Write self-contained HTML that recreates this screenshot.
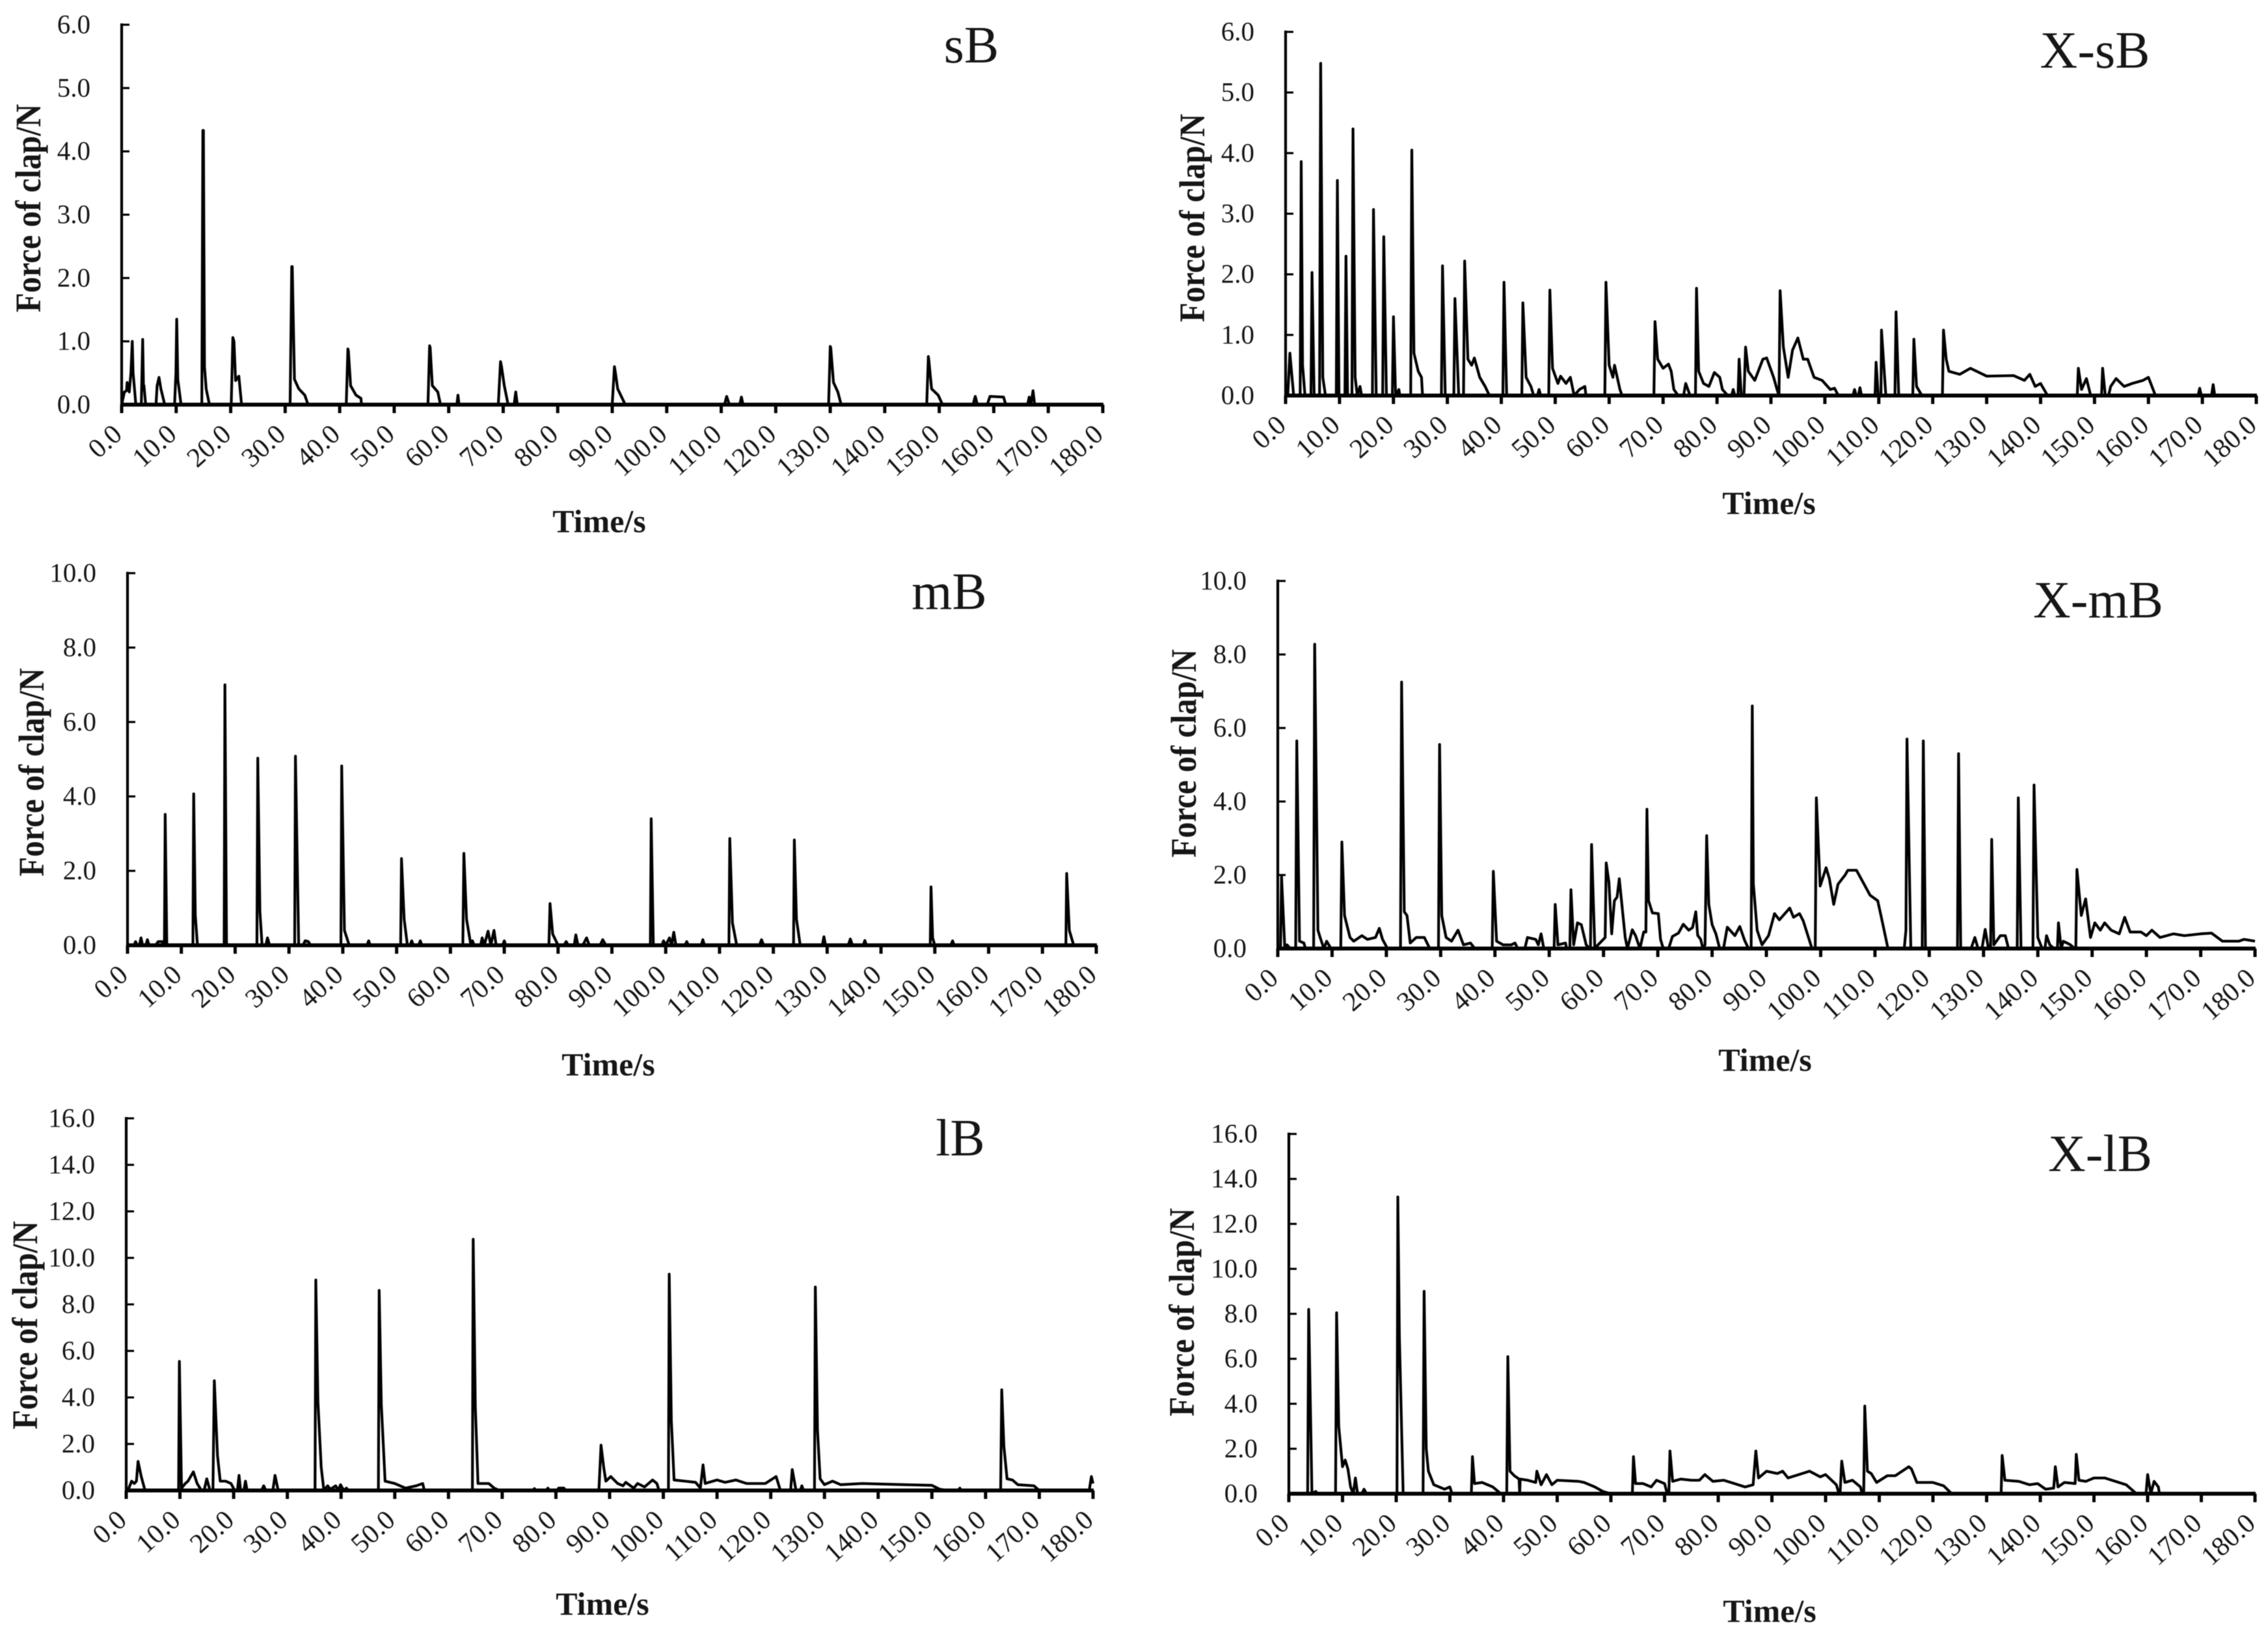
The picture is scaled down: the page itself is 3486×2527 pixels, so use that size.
<!DOCTYPE html>
<html lang="en">
<head>
<meta charset="utf-8">
<title>Force of clap over time</title>
<style>
html,body{margin:0;padding:0;background:#fff;}
body{width:3486px;height:2527px;overflow:hidden;}
svg{display:block;filter:blur(0.6px);}
text{font-family:"Liberation Serif",serif;fill:#161616;}
</style>
</head>
<body>
<svg id="figure" xmlns="http://www.w3.org/2000/svg" width="3486" height="2527" viewBox="0 0 3486 2527"></svg>
<script>
const timeTickLabels = ["0.0","10.0","20.0","30.0","40.0","50.0","60.0","70.0","80.0","90.0","100.0","110.0","120.0","130.0","140.0","150.0","160.0","170.0","180.0"];
const sForceTickLabels = ["0.0","1.0","2.0","3.0","4.0","5.0","6.0"];
const mForceTickLabels = ["0.0","2.0","4.0","6.0","8.0","10.0"];
const lForceTickLabels = ["0.0","2.0","4.0","6.0","8.0","10.0","12.0","14.0","16.0"];

const sBTime = [
0,0.5,0.9,1,1.4,1.7,1.95,2.1,2.3,2.6,
3.6,3.85,4,4.1,4.4,
6.3,6.5,6.85,7.2,7.9,
9.7,9.95,10.1,10.3,10.9,
14.7,14.9,15,15.2,15.5,16.1,
20.1,20.4,20.6,20.9,21.5,22,
30.9,31.2,31.3,31.7,32.5,33.6,34.2,
41.2,41.5,41.6,42,43,43.9,44,
56.2,56.5,56.6,57,58,58.5,
61.5,61.7,61.9,
69.1,69.5,69.7,70.2,70.9,
72,72.3,72.6,
90,90.4,90.6,91,92.4,
110.6,111,111.5,
113.4,113.7,114,
129.7,130,130.1,130.6,131.4,132,
147.7,148,148.1,148.6,149.8,150.6,
156.2,156.6,157,
158.8,159.3,161.8,162.2,
166.2,166.5,166.8,167.2,167.5,
180];
const sBForce = [
0,0.2,0.22,0.35,0.2,0.5,1.0,0.5,0.3,0,
0,1.03,0.3,0.3,0,
0,0.3,0.43,0.25,0,
0,0.5,1.35,0.4,0,
0,4.33,4.33,0.6,0.25,0,
0,1.06,1.0,0.38,0.45,0,
0,2.18,2.18,0.4,0.25,0.15,0,
0,0.88,0.85,0.3,0.15,0.1,0,
0,0.93,0.9,0.3,0.2,0,
0,0.15,0,
0,0.68,0.6,0.3,0,
0,0.2,0,
0,0.6,0.5,0.25,0,
0,0.13,0,
0,0.12,0,
0,0.92,0.9,0.35,0.2,0,
0,0.76,0.7,0.25,0.15,0,
0,0.13,0,
0,0.13,0.12,0,
0,0.12,0,0.22,0,
0];

const xsBTime = [
0.4,0.8,1.5,
2.7,2.9,3.15,3.6,
4.7,4.9,5.3,
6.3,6.5,6.9,7.4,
9.4,9.6,9.9,
11,11.2,11.5,12.3,12.5,12.9,13.3,13.8,14.1,
16.1,16.3,16.8,
18,18.2,18.7,
19.8,20,20.4,21,21.2,
23.2,23.4,23.8,24.6,25.2,25.4,
28.9,29.1,29.6,
31.2,31.4,32.1,
33,33.2,33.8,34.5,35,36,37,37.8,
40.3,40.5,41,
43.8,44,44.6,45.5,46,
46.7,47,47.3,
48.8,49,49.5,50.5,51,52,52.8,53.5,54.5,55.5,55.7,
59.2,59.4,60,60.7,61,62,62.4,
68.3,68.5,69,70,71,71.5,72,72.8,
73.8,74.2,75,
76,76.2,76.6,77.5,78.5,79.5,80.5,81,82,
82.7,83,83.3,
83.9,84.1,84.5,
85,85.3,85.8,87,88.5,89.2,90.5,91.2,91.5,
91.7,92.3,93.2,94,95,96,96.8,98,99.5,101,101.8,102.5,
105.2,105.5,105.8,106.2,106.5,106.8,
109.3,109.5,109.9,110.4,110.5,111.3,
113,113.2,113.7,
116.3,116.5,117,118,
121.8,122,122.5,123,125,127,130,135,137,138,139,140,141.3,
146.8,147,147.6,148.5,149.3,
151.3,151.5,152,
152.6,153,154,155.5,157,159,160,161.3,
169.2,169.5,169.8,
171.7,172,172.3,
180];
const xsBForce = [
0,0.7,0,
0,3.86,0.5,0,
0,2.03,0,
0,5.48,0.3,0,
0,3.55,0,
0,2.3,0,0,4.4,0.3,0,0.15,0,
0,3.07,0,
0,2.62,0,
0,1.3,0,0.1,0,
0,4.05,0.7,0.4,0.3,0,
0,2.14,0,
0,1.6,0,
0,2.22,0.6,0.5,0.62,0.3,0.15,0,
0,1.87,0,
0,1.53,0.3,0.15,0,
0,0.1,0,
0,1.74,0.45,0.2,0.32,0.2,0.3,0,0.1,0.15,0,
0,1.87,0.5,0.3,0.5,0.1,0,
0,1.22,0.6,0.45,0.52,0.4,0.1,0,
0,0.2,0,
0,1.77,0.4,0.2,0.15,0.38,0.3,0.1,0,
0,0.1,0,
0,0.6,0,
0,0.8,0.4,0.25,0.6,0.62,0.3,0.08,0,
1.73,0.8,0.3,0.75,0.95,0.6,0.6,0.3,0.25,0.1,0.12,0,
0,0.1,0,0,0.13,0,
0,0.55,0,0,1.08,0,
0,1.38,0,
0,0.93,0.15,0,
0,1.08,0.6,0.4,0.35,0.45,0.32,0.33,0.25,0.35,0.15,0.2,0,
0,0.45,0.1,0.28,0,
0,0.45,0,
0,0.15,0.28,0.15,0.2,0.25,0.3,0,
0,0.12,0,
0,0.18,0,
0];

const mBTime = [
0,1.2,1.5,1.8,2.2,2.5,2.8,3.4,3.7,4,
5.2,5.7,6.5,6.7,
6.85,7,7.3,
12.15,12.3,12.6,13,
17.95,18.1,18.4,
24.05,24.2,24.6,25,
25.7,26,26.4,
31.05,31.2,31.8,
32.6,33,33.6,34,
39.65,39.8,40.3,41.2,
44.5,44.8,45.1,
50.75,50.9,51.4,52,
52.5,52.8,53.1,
54.1,54.4,54.7,
62.3,62.5,63,63.8,
63.8,64.1,64.4,
65.6,65.9,66.3,67,67.5,68.1,68.5,
69.7,70,70.3,
78.3,78.5,79,80,
81.1,81.5,81.9,
83,83.3,83.7,84.6,85.3,85.8,
87.8,88.3,88.9,
97.15,97.3,97.7,
99.3,99.6,100,100.7,101.1,101.5,101.9,
103.6,103.9,104.2,
106.6,106.9,107.2,
111.75,111.9,112.4,113.2,
117.4,117.8,118.2,
123.75,123.9,124.3,125,
129.1,129.4,129.7,
133.9,134.3,134.7,
136.7,137,137.3,
149.15,149.3,149.6,150,
153,153.3,153.6,
174.35,174.5,175,175.8,
180];
const mBForce = [
0,0,0.1,0,0,0.2,0,0,0.15,0,
0,0.1,0.1,0,
0,3.52,0,
0,4.07,0.8,0,
0,7.0,0,
0,5.03,0.9,0,
0,0.2,0,
0,5.08,0,
0,0.12,0.1,0,
0,4.82,0.4,0,
0,0.12,0,
0,2.33,0.7,0,
0,0.12,0,
0,0.12,0,
0,2.47,0.7,0,
0,0.12,0,
0,0.2,0,0.38,0,0.4,0,
0,0.12,0,
0,1.12,0.3,0,
0,0.1,0,
0,0.28,0,0,0.2,0,
0,0.15,0,
0,3.4,0,
0,0.12,0,0.2,0,0.35,0,
0,0.1,0,
0,0.15,0,
0,2.87,0.6,0,
0,0.15,0,
0,2.83,0.7,0,
0,0.23,0,
0,0.17,0,
0,0.13,0,
0,1.57,0.2,0,
0,0.12,0,
0,1.93,0.4,0,
0];

const xmBTime = [
0.5,0.7,1.3,1.7,2.3,
3.3,3.5,4,4.8,5.1,
6.6,6.8,7.4,7.8,8.5,9,9.8,
11.6,11.8,12.3,13.3,14,15.5,16.5,18,18.7,19.3,20.2,
22.6,22.8,23.3,23.8,24.4,25.5,27,28,
29.6,29.8,30.2,31,32,33.2,34.2,35.5,36.3,
39.5,39.7,40.3,41.5,43,43.7,44.2,
45.5,46,47.5,48,48.5,49,
50.9,51.1,51.6,53,53.2,
53.8,54,54.5,55.2,55.9,56.8,57.4,
57.6,57.8,58.4,59,
60.3,60.5,61,61.5,62,62.5,62.9,64,64.4,
65.3,65.9,66.7,
67.4,67.8,68,68.3,69,70.1,70.5,71,
72,72.7,73.8,74.7,75.7,76.4,77,77.35,77.9,78.3,
78.7,79,79.4,80,80.7,81.4,
82.1,82.8,84.2,85.1,86,86.7,
87.2,87.4,87.6,88.3,89.2,90.4,91.5,92.4,94.3,95,96.1,96.8,98.4,
99,99.2,99.9,101,101.6,102.4,103.2,104.5,105,106.6,108,109.1,110.5,111.1,112.4,
115.4,115.7,115.9,116.6,
118.7,118.9,119.3,
125.2,125.4,125.8,
127.7,128.4,129,
129.7,130.3,130.9,
131.3,131.5,131.9,133.1,134,134.6,
136.2,136.4,136.9,
139.1,139.3,140,140.8,
141.3,141.6,142.2,143,
143.6,143.8,144.3,144.7,146,146.8,
147,147.2,148,148.8,149.7,150.5,151.5,152.3,153.5,155,156,157,159,160,161,162.5,165,167,170,172,174,177,178,180];
const xmBForce = [
0,1.95,0,0.1,0,
0,5.65,0.2,0.15,0,
0,8.28,0.5,0.3,0,0.2,0,
0,2.9,0.9,0.3,0.2,0.35,0.25,0.3,0.55,0.25,0,
0,7.25,1.0,0.9,0.15,0.3,0.3,0,
0,5.55,0.9,0.3,0.2,0.5,0.1,0.15,0,
0,2.1,0.2,0.1,0.1,0.15,0,
0,0.3,0.25,0.1,0.4,0,
0,1.2,0.1,0.15,0,
0,1.6,0.1,0.7,0.65,0.1,0,
0,2.83,0,0.1,
0.3,2.33,1.8,0.4,1.3,1.4,1.9,0.3,0,
0.51,0.35,0,
0.45,0.45,3.79,1.3,0.97,0.95,0.25,0,
0,0.33,0.42,0.66,0.5,0.57,1.0,0.36,0.25,0,
0.1,3.07,1.2,0.65,0.4,0,
0,0.58,0.35,0.6,0.22,0,
0,6.6,1.75,0.5,0.1,0.35,0.95,0.78,1.1,0.85,0.95,0.75,0,
0,4.1,1.7,2.2,1.9,1.2,1.75,2.0,2.13,2.13,1.75,1.45,1.3,0.9,0,
0,0.5,5.7,0,
0,5.65,0,
0,5.3,0,
0,0.3,0,
0,0.52,0,
0,2.97,0.1,0.35,0.35,0,
0,4.1,0,
0,4.45,0.3,0,
0,0.35,0.1,0,
0,0.7,0,0.2,0.1,0,
0,2.15,0.9,1.35,0.3,0.7,0.5,0.7,0.5,0.4,0.85,0.45,0.45,0.35,0.5,0.3,0.4,0.35,0.4,0.42,0.2,0.2,0.25,0.2];

const lBTime = [
0,0.5,1,1.5,1.9,2.2,2.8,3.5,
9.75,9.9,10.3,11,11.5,12.5,13.2,14,
14.5,15,15.6,
16.15,16.4,17,17.5,18.5,19.5,20.2,
20.7,21,21.3,
21.9,22.2,22.5,
25.2,25.6,26,
27.3,27.7,28.3,
35.15,35.3,35.7,36.3,36.8,37.5,38,39,39.5,39.9,40.5,41,41.4,
46.95,47.1,47.5,48.2,50,52,54,55.2,55.5,
64.45,64.6,65,65.5,67.5,68.5,69.5,
75.7,76,76.3,
78.2,78.5,78.8,
80.2,80.5,81.5,81.8,
88,88.4,88.9,89.3,90.2,91.5,92.5,93,94.5,95.2,96.5,98,98.8,99.2,
100.95,101.1,101.5,102,104,106,106.9,107.4,107.8,108.5,110,111.5,113.5,115.5,119,121,121.8,
123.7,124,124.7,
125.5,125.8,126.1,
128.15,128.3,128.7,129.2,130,131.5,133,137,145,150,151.5,153,
154.9,155.2,155.5,
162.8,163,163.4,164,165,166,169,170,
179.3,179.7,180];
const lBForce = [
0,0.1,0.4,0.3,0.4,1.25,0.6,0,
0,5.55,0.1,0.3,0.4,0.8,0.3,0,
0,0.5,0,
0,4.72,1.5,0.4,0.4,0.3,0,
0,0.65,0,
0,0.4,0,
0,0.2,0,
0,0.65,0,
0,9.05,3.8,1.0,0,0.2,0.05,0.2,0,0.25,0,0.1,0,
0,8.6,3.7,0.4,0.3,0.1,0.2,0.3,0,
0,10.8,3.6,0.3,0.3,0.1,0,
0,0.08,0,
0,0.1,0,
0,0.1,0.1,0,
0,1.95,1.0,0.4,0.6,0.3,0.2,0.35,0.1,0.3,0.15,0.45,0.3,0,
0,9.3,3.0,0.45,0.4,0.35,0.1,1.1,0.3,0.35,0.45,0.35,0.45,0.3,0.3,0.6,0,
0,0.9,0,
0,0.2,0,
0,8.75,2.6,0.5,0.25,0.4,0.25,0.3,0.25,0.22,0.05,0,
0,0.1,0,
0,4.33,1.9,0.5,0.45,0.25,0.2,0,
0,0.6,0.3];

const xlBTime = [
0,3.5,3.7,4.3,5,5.4,
8.7,8.9,9.3,10,10.5,11,11.5,12,12.4,12.8,
13.6,14,14.5,
20.15,20.3,20.6,21.3,
25,25.2,25.6,26,27,28,29,30,30.4,
34,34.2,34.6,36,38,39.5,
40.6,40.8,41.2,42,42.9,43,43.1,44.5,46,46.2,47,48,49,50,54,55,57,58.5,60,
64,64.2,64.6,66,67.5,68.5,70,70.5,
70.8,71,71.5,73,75,76.5,77.5,79,81,83,85,86.5,
87,87.5,89,91,92,93,95,97,99,100,102,102.5,
102.7,103,103.6,105,106.5,106.8,
107.1,107.3,107.8,108.5,109.5,111.5,113,115.5,116,117,120,122,123.5,
132.7,132.9,133.4,136,138,139.5,141,142.5,
142.8,143.3,144.5,146.5,
146.7,147.2,148.5,150,152,154,156,157.9,
159.7,160,160.6,161.2,162,162.2,
180];
const xlBForce = [
0,0,8.2,0,0.1,0,
0,8.05,3.0,1.2,1.5,1.1,0.3,0,0.7,0,
0,0.2,0,
0,13.2,7.0,0,
0,9.0,2.0,1.0,0.4,0.3,0.2,0.3,0,
0,1.65,0.45,0.5,0.3,0,
0,6.1,1.0,0.8,0.65,0,0.65,0.6,0.5,1.0,0.4,0.85,0.4,0.6,0.55,0.5,0.3,0.1,0,
0,1.65,0.45,0.45,0.3,0.6,0.45,0,
0,1.9,0.55,0.65,0.6,0.6,0.85,0.55,0.6,0.45,0.3,0.4,
1.9,0.7,1.0,0.9,1.0,0.7,0.85,1.0,0.75,0.85,0.4,0,
0,1.45,0.5,0.6,0.3,0,
0,3.9,1.0,0.9,0.5,0.8,0.8,1.2,1.1,0.5,0.5,0.35,0,
0,1.7,0.6,0.55,0.4,0.45,0.2,0.25,
1.2,0.3,0.5,0.45,
1.75,0.6,0.55,0.7,0.7,0.55,0.4,0,
0,0.85,0,0.55,0.3,0,
0];

const svgNS = "http://www.w3.org/2000/svg";
const figure = document.getElementById("figure");

function makeScale(domainMin, domainMax, rangeMin, rangeMax) {
  return function (value) {
    return rangeMin + (value - domainMin) / (domainMax - domainMin) * (rangeMax - rangeMin);
  };
}

function addLine(parent, x1, y1, x2, y2, width) {
  const line = document.createElementNS(svgNS, "line");
  line.setAttribute("x1", x1);
  line.setAttribute("y1", y1);
  line.setAttribute("x2", x2);
  line.setAttribute("y2", y2);
  line.setAttribute("stroke", "#000");
  line.setAttribute("stroke-width", width);
  parent.appendChild(line);
  return line;
}

function addText(parent, content, x, y, size, anchor, weight, transform) {
  const text = document.createElementNS(svgNS, "text");
  text.setAttribute("x", x);
  text.setAttribute("y", y);
  text.setAttribute("font-size", size);
  text.setAttribute("text-anchor", anchor);
  text.setAttribute("font-weight", weight);
  if (transform) text.setAttribute("transform", transform);
  text.textContent = content;
  parent.appendChild(text);
  return text;
}

function drawPanel(cfg) {
  const group = document.createElementNS(svgNS, "g");
  
  
  figure.appendChild(group);

  const timeValues = timeTickLabels.map(parseFloat);
  const forceValues = cfg.forceTicks.map(parseFloat);
  const xScale = makeScale(timeValues[0], timeValues[timeValues.length - 1], cfg.left, cfg.right);
  const yScale = makeScale(forceValues[0], forceValues[forceValues.length - 1], cfg.bottom, cfg.top);

  const yAxis = addLine(group, cfg.left, cfg.top - 2, cfg.left, cfg.bottom + 3, 4.2);
  
  

  const xAxis = addLine(group, cfg.left - 2, cfg.bottom, cfg.right + 1, cfg.bottom, 6);
  
  

  cfg.forceTicks.forEach(function (label) {
    const y = yScale(parseFloat(label));
    const tick = addLine(group, cfg.left, y, cfg.left + 12, y, 3.2);
    
    
    const tickText = addText(group, label, cfg.left - 48, y + 13, 41, "end", "normal");
    
    
  });

  timeTickLabels.forEach(function (label) {
    const x = xScale(parseFloat(label));
    const tick = addLine(group, x, cfg.bottom, x, cfg.bottom + 13, 5);
    
    
    const lx = x + 3;
    const ly = cfg.bottom + 49;
    const tickText = addText(group, label, lx, ly, 42, "end", "normal", "rotate(-42 " + lx + " " + ly + ")");
    
    
  });

  const count = Math.min(cfg.time.length, cfg.force.length);
  const points = [];
  for (let i = 0; i < count; i++) {
    points.push(xScale(cfg.time[i]).toFixed(1) + "," + yScale(cfg.force[i]).toFixed(1));
  }
  const series = document.createElementNS(svgNS, "polyline");
  series.setAttribute("points", points.join(" "));
  series.setAttribute("fill", "none");
  series.setAttribute("stroke", "#000");
  series.setAttribute("stroke-width", "4.2");
  series.setAttribute("stroke-linejoin", "round");
  
  
  group.appendChild(series);

  const yTitle = addText(group, "Force of clap/N", 0, 0, 49, "middle", "bold",
    "translate(" + cfg.yTitleX + " " + cfg.yTitleY + ") rotate(-90) scale(1 1.12)");
  
  

  const xTitle = addText(group, "Time/s", cfg.xTitleX, cfg.xTitleY, 50, "middle", "bold");
  
  

  const panelTitle = addText(group, cfg.title, cfg.titleX, cfg.titleY, 80, "middle", "normal");
  
  
}

drawPanel({slug:"sb", title:"sB", time:sBTime, force:sBForce, forceTicks:sForceTickLabels,
  left:187, right:1695, top:38, bottom:622,
  yTitleX:62, yTitleY:320, xTitleX:921, xTitleY:818, titleX:1493, titleY:96});
drawPanel({slug:"x-sb", title:"X-sB", time:xsBTime, force:xsBForce, forceTicks:sForceTickLabels,
  left:1976, right:3468, top:49, bottom:608,
  yTitleX:1851, yTitleY:335, xTitleX:2719, xTitleY:790, titleX:3220, titleY:104});
drawPanel({slug:"mb", title:"mB", time:mBTime, force:mBForce, forceTicks:mForceTickLabels,
  left:196, right:1685, top:881, bottom:1453,
  yTitleX:67, yTitleY:1187, xTitleX:935, xTitleY:1653, titleX:1459, titleY:936});
drawPanel({slug:"x-mb", title:"X-mB", time:xmBTime, force:xmBForce, forceTicks:mForceTickLabels,
  left:1964, right:3466, top:893, bottom:1458,
  yTitleX:1838, yTitleY:1158, xTitleX:2713, xTitleY:1646, titleX:3225, titleY:949});
drawPanel({slug:"lb", title:"lB", time:lBTime, force:lBForce, forceTicks:lForceTickLabels,
  left:194, right:1680, top:1719, bottom:2291,
  yTitleX:57, yTitleY:2037, xTitleX:926, xTitleY:2482, titleX:1476, titleY:1776});
drawPanel({slug:"x-lb", title:"X-lB", time:xlBTime, force:xlBForce, forceTicks:lForceTickLabels,
  left:1981, right:3466, top:1743, bottom:2296,
  yTitleX:1835, yTitleY:2017, xTitleX:2720, xTitleY:2493, titleX:3228, titleY:1800});
</script>
</body>
</html>
